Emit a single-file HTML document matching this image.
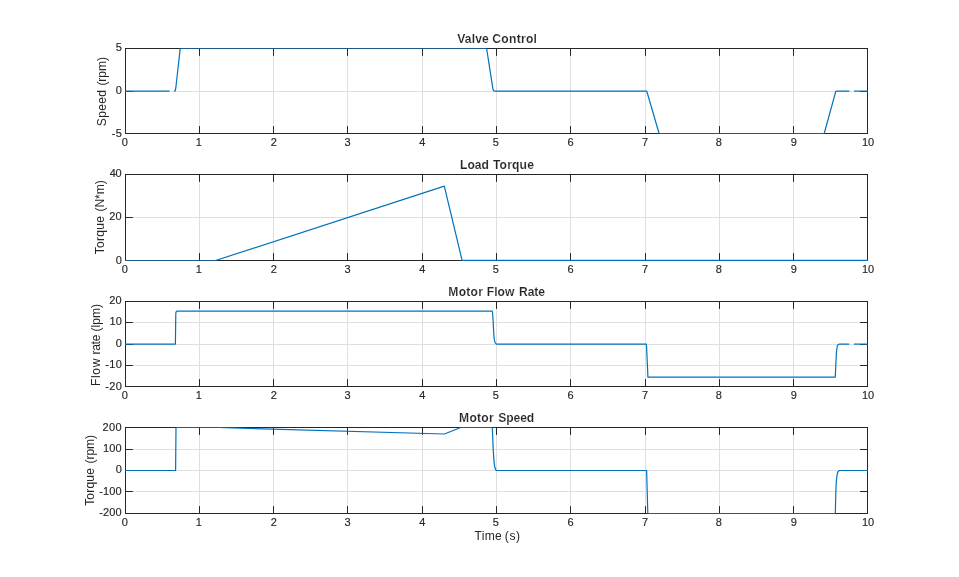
<!DOCTYPE html>
<html lang="en"><head><meta charset="utf-8"><title>Figure</title>
<style>html,body{margin:0;padding:0;background:#fff}body{width:959px;height:577px;overflow:hidden}svg{display:block}text{font-family:"Liberation Sans",Arial,Helvetica,sans-serif;fill:#262626;white-space:pre}.t{font-size:11px;stroke:#262626;stroke-width:.15px}.l{font-size:12.1px}.b{font-size:12.1px;font-weight:bold;stroke:#fff;stroke-width:.14px}.g{stroke:#dfdfdf;stroke-width:1}.a{stroke:#262626;stroke-width:1;fill:none}.p{stroke:#0072bd;stroke-width:1.2;fill:none;stroke-linejoin:round;stroke-linecap:butt}.q{stroke:#1b5a8e;stroke-width:1;fill:none}.tx{filter:grayscale(1)}</style></head><body>
<svg width="959" height="577" viewBox="0 0 959 577">
<rect x="0" y="0" width="959" height="577" fill="#fff"/>
<g>
<line class="g" x1="199.5" y1="48.5" x2="199.5" y2="133.5"/>
<line class="g" x1="273.5" y1="48.5" x2="273.5" y2="133.5"/>
<line class="g" x1="347.5" y1="48.5" x2="347.5" y2="133.5"/>
<line class="g" x1="422.5" y1="48.5" x2="422.5" y2="133.5"/>
<line class="g" x1="496.5" y1="48.5" x2="496.5" y2="133.5"/>
<line class="g" x1="570.5" y1="48.5" x2="570.5" y2="133.5"/>
<line class="g" x1="645.5" y1="48.5" x2="645.5" y2="133.5"/>
<line class="g" x1="719.5" y1="48.5" x2="719.5" y2="133.5"/>
<line class="g" x1="793.5" y1="48.5" x2="793.5" y2="133.5"/>
<line class="g" x1="125.5" y1="91.5" x2="867.5" y2="91.5"/>
<rect class="a" x="125.5" y="48.5" width="742.0" height="85.0"/>
<line class="a" x1="199.5" y1="133.5" x2="199.5" y2="126.1"/>
<line class="a" x1="199.5" y1="48.5" x2="199.5" y2="55.9"/>
<line class="a" x1="273.5" y1="133.5" x2="273.5" y2="126.1"/>
<line class="a" x1="273.5" y1="48.5" x2="273.5" y2="55.9"/>
<line class="a" x1="347.5" y1="133.5" x2="347.5" y2="126.1"/>
<line class="a" x1="347.5" y1="48.5" x2="347.5" y2="55.9"/>
<line class="a" x1="422.5" y1="133.5" x2="422.5" y2="126.1"/>
<line class="a" x1="422.5" y1="48.5" x2="422.5" y2="55.9"/>
<line class="a" x1="496.5" y1="133.5" x2="496.5" y2="126.1"/>
<line class="a" x1="496.5" y1="48.5" x2="496.5" y2="55.9"/>
<line class="a" x1="570.5" y1="133.5" x2="570.5" y2="126.1"/>
<line class="a" x1="570.5" y1="48.5" x2="570.5" y2="55.9"/>
<line class="a" x1="645.5" y1="133.5" x2="645.5" y2="126.1"/>
<line class="a" x1="645.5" y1="48.5" x2="645.5" y2="55.9"/>
<line class="a" x1="719.5" y1="133.5" x2="719.5" y2="126.1"/>
<line class="a" x1="719.5" y1="48.5" x2="719.5" y2="55.9"/>
<line class="a" x1="793.5" y1="133.5" x2="793.5" y2="126.1"/>
<line class="a" x1="793.5" y1="48.5" x2="793.5" y2="55.9"/>
<line class="a" x1="125.5" y1="91.5" x2="132.9" y2="91.5"/>
<line class="a" x1="867.5" y1="91.5" x2="860.1" y2="91.5"/>
<polyline class="p" points="125,91.1 169.6,91.1"/>
<polyline class="p" points="173.9,91.1 175.2,90.8 175.8,88 180.1,49.6 180.4,48.5"/>
<polyline class="q" points="180.2,48.5 486.6,48.5"/>
<polyline class="p" points="486.5,48.5 486.8,49.6 493,89.3 493.6,90.7 494.8,91.1 646.6,91.1 647,92 659.1,133.5"/>
<polyline class="q" points="659.1,133.5 824.2,133.5"/>
<polyline class="p" points="824.2,133.5 835.5,92.3 836,91.3 837,91.1 849.4,91.1"/>
<polyline class="p" points="854,91.1 868,91.1"/>
<g class="tx">
<text class="t" x="121.74" y="146">0</text>
<text class="t" x="195.74" y="146">1</text>
<text class="t" x="270.64" y="146">2</text>
<text class="t" x="344.62" y="146">3</text>
<text class="t" x="419.18" y="146">4</text>
<text class="t" x="492.85" y="146">5</text>
<text class="t" x="567.6" y="146">6</text>
<text class="t" x="641.94" y="146">7</text>
<text class="t" x="715.84" y="146">8</text>
<text class="t" x="790.79" y="146">9</text>
<text class="t" x="861.96 867.91" y="146">10</text>
<text class="t" x="111.81 115.84" y="137">-5</text>
<text class="t" x="115.69" y="94">0</text>
<text class="t" x="115.7" y="51">5</text>
<text class="b" x="457.27 464.79 471.65 475.13 481.98 488.71 492.37 501.37 509.03 516.68 520.97 525.94 533.59" y="42.5">Valve Control</text>
<text class="l" transform="translate(106.1,0) rotate(-90)" x="-126.25 -117.87 -110.83 -103.79 -96.75 -90.02 -85.6 -81.63 -77.66 -71 -60.98" y="0">Speed (rpm)</text>
</g>
</g>
<g>
<line class="g" x1="199.5" y1="174.5" x2="199.5" y2="260.5"/>
<line class="g" x1="273.5" y1="174.5" x2="273.5" y2="260.5"/>
<line class="g" x1="347.5" y1="174.5" x2="347.5" y2="260.5"/>
<line class="g" x1="422.5" y1="174.5" x2="422.5" y2="260.5"/>
<line class="g" x1="496.5" y1="174.5" x2="496.5" y2="260.5"/>
<line class="g" x1="570.5" y1="174.5" x2="570.5" y2="260.5"/>
<line class="g" x1="645.5" y1="174.5" x2="645.5" y2="260.5"/>
<line class="g" x1="719.5" y1="174.5" x2="719.5" y2="260.5"/>
<line class="g" x1="793.5" y1="174.5" x2="793.5" y2="260.5"/>
<line class="g" x1="125.5" y1="217.5" x2="867.5" y2="217.5"/>
<rect class="a" x="125.5" y="174.5" width="742.0" height="86.0"/>
<line class="a" x1="199.5" y1="260.5" x2="199.5" y2="253.1"/>
<line class="a" x1="199.5" y1="174.5" x2="199.5" y2="181.9"/>
<line class="a" x1="273.5" y1="260.5" x2="273.5" y2="253.1"/>
<line class="a" x1="273.5" y1="174.5" x2="273.5" y2="181.9"/>
<line class="a" x1="347.5" y1="260.5" x2="347.5" y2="253.1"/>
<line class="a" x1="347.5" y1="174.5" x2="347.5" y2="181.9"/>
<line class="a" x1="422.5" y1="260.5" x2="422.5" y2="253.1"/>
<line class="a" x1="422.5" y1="174.5" x2="422.5" y2="181.9"/>
<line class="a" x1="496.5" y1="260.5" x2="496.5" y2="253.1"/>
<line class="a" x1="496.5" y1="174.5" x2="496.5" y2="181.9"/>
<line class="a" x1="570.5" y1="260.5" x2="570.5" y2="253.1"/>
<line class="a" x1="570.5" y1="174.5" x2="570.5" y2="181.9"/>
<line class="a" x1="645.5" y1="260.5" x2="645.5" y2="253.1"/>
<line class="a" x1="645.5" y1="174.5" x2="645.5" y2="181.9"/>
<line class="a" x1="719.5" y1="260.5" x2="719.5" y2="253.1"/>
<line class="a" x1="719.5" y1="174.5" x2="719.5" y2="181.9"/>
<line class="a" x1="793.5" y1="260.5" x2="793.5" y2="253.1"/>
<line class="a" x1="793.5" y1="174.5" x2="793.5" y2="181.9"/>
<line class="a" x1="125.5" y1="217.5" x2="132.9" y2="217.5"/>
<line class="a" x1="867.5" y1="217.5" x2="860.1" y2="217.5"/>
<polyline class="q" points="125,260.5 215.6,260.5"/>
<polyline class="p" points="215.6,260.5 444.3,186.1 462.1,260.4 868,260.4"/>
<g class="tx">
<text class="t" x="121.74" y="273">0</text>
<text class="t" x="195.74" y="273">1</text>
<text class="t" x="270.64" y="273">2</text>
<text class="t" x="344.62" y="273">3</text>
<text class="t" x="419.18" y="273">4</text>
<text class="t" x="492.85" y="273">5</text>
<text class="t" x="567.6" y="273">6</text>
<text class="t" x="641.94" y="273">7</text>
<text class="t" x="715.84" y="273">8</text>
<text class="t" x="790.79" y="273">9</text>
<text class="t" x="861.96 867.91" y="273">10</text>
<text class="t" x="115.69" y="264">0</text>
<text class="t" x="109.15 115.51" y="220">20</text>
<text class="t" x="109.65 115.51" y="177">40</text>
<text class="b" x="459.95 467.39 474.83 481.61 489 492.96 499.62 507.17 512.03 519.58 527.13" y="168.5">Load Torque</text>
<text class="l" transform="translate(104.4,0) rotate(-90)" x="-254.17 -247.88 -240.91 -236.64 -229.66 -222.69 -215.96 -211.55 -207.59 -198.93 -194.29 -184.28" y="0">Torque (N*m)</text>
</g>
</g>
<g>
<line class="g" x1="199.5" y1="301.5" x2="199.5" y2="386.5"/>
<line class="g" x1="273.5" y1="301.5" x2="273.5" y2="386.5"/>
<line class="g" x1="347.5" y1="301.5" x2="347.5" y2="386.5"/>
<line class="g" x1="422.5" y1="301.5" x2="422.5" y2="386.5"/>
<line class="g" x1="496.5" y1="301.5" x2="496.5" y2="386.5"/>
<line class="g" x1="570.5" y1="301.5" x2="570.5" y2="386.5"/>
<line class="g" x1="645.5" y1="301.5" x2="645.5" y2="386.5"/>
<line class="g" x1="719.5" y1="301.5" x2="719.5" y2="386.5"/>
<line class="g" x1="793.5" y1="301.5" x2="793.5" y2="386.5"/>
<line class="g" x1="125.5" y1="365.5" x2="867.5" y2="365.5"/>
<line class="g" x1="125.5" y1="344.5" x2="867.5" y2="344.5"/>
<line class="g" x1="125.5" y1="322.5" x2="867.5" y2="322.5"/>
<rect class="a" x="125.5" y="301.5" width="742.0" height="85.0"/>
<line class="a" x1="199.5" y1="386.5" x2="199.5" y2="379.1"/>
<line class="a" x1="199.5" y1="301.5" x2="199.5" y2="308.9"/>
<line class="a" x1="273.5" y1="386.5" x2="273.5" y2="379.1"/>
<line class="a" x1="273.5" y1="301.5" x2="273.5" y2="308.9"/>
<line class="a" x1="347.5" y1="386.5" x2="347.5" y2="379.1"/>
<line class="a" x1="347.5" y1="301.5" x2="347.5" y2="308.9"/>
<line class="a" x1="422.5" y1="386.5" x2="422.5" y2="379.1"/>
<line class="a" x1="422.5" y1="301.5" x2="422.5" y2="308.9"/>
<line class="a" x1="496.5" y1="386.5" x2="496.5" y2="379.1"/>
<line class="a" x1="496.5" y1="301.5" x2="496.5" y2="308.9"/>
<line class="a" x1="570.5" y1="386.5" x2="570.5" y2="379.1"/>
<line class="a" x1="570.5" y1="301.5" x2="570.5" y2="308.9"/>
<line class="a" x1="645.5" y1="386.5" x2="645.5" y2="379.1"/>
<line class="a" x1="645.5" y1="301.5" x2="645.5" y2="308.9"/>
<line class="a" x1="719.5" y1="386.5" x2="719.5" y2="379.1"/>
<line class="a" x1="719.5" y1="301.5" x2="719.5" y2="308.9"/>
<line class="a" x1="793.5" y1="386.5" x2="793.5" y2="379.1"/>
<line class="a" x1="793.5" y1="301.5" x2="793.5" y2="308.9"/>
<line class="a" x1="125.5" y1="365.5" x2="132.9" y2="365.5"/>
<line class="a" x1="867.5" y1="365.5" x2="860.1" y2="365.5"/>
<line class="a" x1="125.5" y1="344.5" x2="132.9" y2="344.5"/>
<line class="a" x1="867.5" y1="344.5" x2="860.1" y2="344.5"/>
<line class="a" x1="125.5" y1="322.5" x2="132.9" y2="322.5"/>
<line class="a" x1="867.5" y1="322.5" x2="860.1" y2="322.5"/>
<polyline class="p" points="125,344.1 175.4,344.1 175.8,313 176.3,311.5 177.2,311.15 492.25,311.15 492.6,313 493.1,320.7 493.75,333.2 494.3,339.8 495.2,342.9 496.4,344.1 646.3,344.1 646.6,347 647,356.8 647.6,369.3 647.9,377.15 835.2,377.15 835.4,375 835.8,365 836.4,352.7 837.25,346 838,344.7 839.3,344.1 849.2,344.1"/>
<polyline class="p" points="853.9,344.1 868,344.1"/>
<g class="tx">
<text class="t" x="121.74" y="399">0</text>
<text class="t" x="195.74" y="399">1</text>
<text class="t" x="270.64" y="399">2</text>
<text class="t" x="344.62" y="399">3</text>
<text class="t" x="419.18" y="399">4</text>
<text class="t" x="492.85" y="399">5</text>
<text class="t" x="567.6" y="399">6</text>
<text class="t" x="641.94" y="399">7</text>
<text class="t" x="715.84" y="399">8</text>
<text class="t" x="790.79" y="399">9</text>
<text class="t" x="861.96 867.91" y="399">10</text>
<text class="t" x="105.21 109.21 115.66" y="390">-20</text>
<text class="t" x="105.21 109.21 115.66" y="368">-10</text>
<text class="t" x="115.69" y="347">0</text>
<text class="t" x="109.56 115.66" y="325">10</text>
<text class="t" x="109.15 115.61" y="304">20</text>
<text class="b" x="448.35 458.69 466.34 470.62 478.27 482.98 486.69 494.16 497.6 505.06 514.48 518.99 527.66 534.32 538.28" y="295.5">Motor Flow Rate</text>
<text class="l" transform="translate(99.9,0) rotate(-90)" x="-385.99 -377.96 -374.64 -367.27 -358.53 -354.6 -350.84 -344.38 -341.29 -334.56 -331.45 -327.43 -324.76 -318.04 -307.98" y="0">Flow rate (lpm)</text>
</g>
</g>
<g>
<line class="g" x1="199.5" y1="427.5" x2="199.5" y2="513.5"/>
<line class="g" x1="273.5" y1="427.5" x2="273.5" y2="513.5"/>
<line class="g" x1="347.5" y1="427.5" x2="347.5" y2="513.5"/>
<line class="g" x1="422.5" y1="427.5" x2="422.5" y2="513.5"/>
<line class="g" x1="496.5" y1="427.5" x2="496.5" y2="513.5"/>
<line class="g" x1="570.5" y1="427.5" x2="570.5" y2="513.5"/>
<line class="g" x1="645.5" y1="427.5" x2="645.5" y2="513.5"/>
<line class="g" x1="719.5" y1="427.5" x2="719.5" y2="513.5"/>
<line class="g" x1="793.5" y1="427.5" x2="793.5" y2="513.5"/>
<line class="g" x1="125.5" y1="491.5" x2="867.5" y2="491.5"/>
<line class="g" x1="125.5" y1="470.5" x2="867.5" y2="470.5"/>
<line class="g" x1="125.5" y1="449.5" x2="867.5" y2="449.5"/>
<rect class="a" x="125.5" y="427.5" width="742.0" height="86.0"/>
<line class="a" x1="199.5" y1="513.5" x2="199.5" y2="506.1"/>
<line class="a" x1="199.5" y1="427.5" x2="199.5" y2="434.9"/>
<line class="a" x1="273.5" y1="513.5" x2="273.5" y2="506.1"/>
<line class="a" x1="273.5" y1="427.5" x2="273.5" y2="434.9"/>
<line class="a" x1="347.5" y1="513.5" x2="347.5" y2="506.1"/>
<line class="a" x1="347.5" y1="427.5" x2="347.5" y2="434.9"/>
<line class="a" x1="422.5" y1="513.5" x2="422.5" y2="506.1"/>
<line class="a" x1="422.5" y1="427.5" x2="422.5" y2="434.9"/>
<line class="a" x1="496.5" y1="513.5" x2="496.5" y2="506.1"/>
<line class="a" x1="496.5" y1="427.5" x2="496.5" y2="434.9"/>
<line class="a" x1="570.5" y1="513.5" x2="570.5" y2="506.1"/>
<line class="a" x1="570.5" y1="427.5" x2="570.5" y2="434.9"/>
<line class="a" x1="645.5" y1="513.5" x2="645.5" y2="506.1"/>
<line class="a" x1="645.5" y1="427.5" x2="645.5" y2="434.9"/>
<line class="a" x1="719.5" y1="513.5" x2="719.5" y2="506.1"/>
<line class="a" x1="719.5" y1="427.5" x2="719.5" y2="434.9"/>
<line class="a" x1="793.5" y1="513.5" x2="793.5" y2="506.1"/>
<line class="a" x1="793.5" y1="427.5" x2="793.5" y2="434.9"/>
<line class="a" x1="125.5" y1="491.5" x2="132.9" y2="491.5"/>
<line class="a" x1="867.5" y1="491.5" x2="860.1" y2="491.5"/>
<line class="a" x1="125.5" y1="470.5" x2="132.9" y2="470.5"/>
<line class="a" x1="867.5" y1="470.5" x2="860.1" y2="470.5"/>
<line class="a" x1="125.5" y1="449.5" x2="132.9" y2="449.5"/>
<line class="a" x1="867.5" y1="449.5" x2="860.1" y2="449.5"/>
<polyline class="p" points="125,470.5 175.6,470.5 176,427.5"/>
<polyline class="q" points="176,427.5 218,427.5"/>
<polyline class="p" points="218,427.5 444.4,434 460.7,427.5"/>
<polyline class="q" points="460.7,427.5 492.3,427.5"/>
<polyline class="p" points="492.3,427.5 492.7,437 493.2,449.2 494.1,462.7 495,468.1 495.8,469.9 496.8,470.5 646.6,470.5 647.8,513.5"/>
<polyline class="q" points="647.8,513.5 835.3,513.5"/>
<polyline class="p" points="835.3,513.5 835.85,491.6 836.25,482 837.05,475 838.05,471.5 839.6,470.5 868,470.5"/>
<g class="tx">
<text class="t" x="121.74" y="526">0</text>
<text class="t" x="195.74" y="526">1</text>
<text class="t" x="270.64" y="526">2</text>
<text class="t" x="344.62" y="526">3</text>
<text class="t" x="419.18" y="526">4</text>
<text class="t" x="492.85" y="526">5</text>
<text class="t" x="567.6" y="526">6</text>
<text class="t" x="641.94" y="526">7</text>
<text class="t" x="715.84" y="526">8</text>
<text class="t" x="790.79" y="526">9</text>
<text class="t" x="861.96 867.91" y="526">10</text>
<text class="t" x="99.15 102.99 109.29 115.58" y="516">-200</text>
<text class="t" x="99.15 102.99 109.29 115.58" y="495">-100</text>
<text class="t" x="115.69" y="473">0</text>
<text class="t" x="102.96 109.27 115.58" y="452">100</text>
<text class="t" x="102.52 109.05 115.58" y="431">200</text>
<text class="b" x="459.07 469.42 477.08 481.37 489.03 493.74 498.35 506.32 513.61 520.23 526.86" y="421.5">Motor Speed</text>
<text class="l" transform="translate(93.5,0) rotate(-90)" x="-505.87 -499.66 -492.77 -488.58 -481.68 -474.79 -468.06 -463.45 -459.52 -455.59 -448.96 -438.98" y="0">Torque (rpm)</text>
</g>
</g>
<g class="tx"><text class="l" x="474.6 481.79 484.73 495.06 501.79 504.8 509.4 516.02" y="539.7">Time (s)</text></g>
</svg></body></html>
